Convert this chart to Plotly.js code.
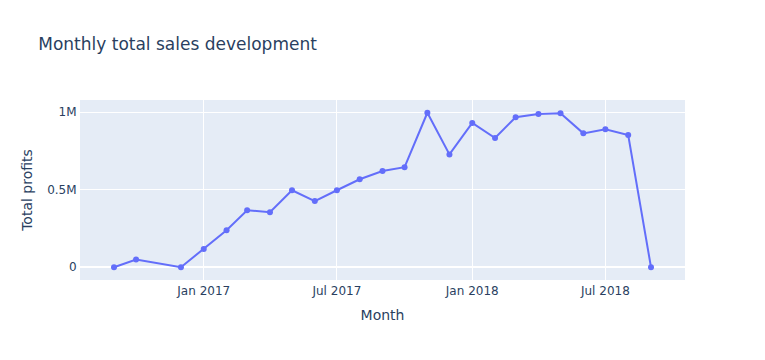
<!DOCTYPE html>
<html>
<head>
<meta charset="utf-8">
<script src="https://cdn.plot.ly/plotly-3.0.1.min.js"></script>
<style>html,body{margin:0;padding:0;background:#fff;}#chart{width:765px;height:360px;}</style>
</head>
<body>
<div id="chart"></div>
<script>
const months = ["2016-09-01","2016-10-01","2016-12-01","2017-01-01","2017-02-01","2017-03-01","2017-04-01","2017-05-01","2017-06-01","2017-07-01","2017-08-01","2017-09-01","2017-10-01","2017-11-01","2017-12-01","2018-01-01","2018-02-01","2018-03-01","2018-04-01","2018-05-01","2018-06-01","2018-07-01","2018-08-01","2018-09-01"];
const profits = [200, 50000, 100, 118000, 239000, 368000, 355000, 497000, 427000, 497000, 568000, 621000, 646000, 997000, 728000, 931000, 834000, 968000, 989000, 994000, 864000, 890000, 853000, 150];

const trace = {
  x: months,
  y: profits,
  type: 'scatter',
  mode: 'lines+markers',
  line: {color: '#636efa', width: 2},
  marker: {color: '#636efa', size: 6}
};

const layout = {
  width: 765,
  height: 360,
  margin: {l: 80, r: 80, t: 100, b: 80},
  paper_bgcolor: '#ffffff',
  plot_bgcolor: '#E5ECF6',
  font: {family: '"DejaVu Sans", verdana, arial, sans-serif', size: 12, color: '#2a3f5f'},
  title: {text: 'Monthly total sales development', x: 0.05, xanchor: 'left', font: {size: 17, color: '#2a3f5f'}},
  xaxis: {
    title: {text: 'Month', font: {size: 14}, standoff: 12},
    gridcolor: '#ffffff', linecolor: '#ffffff', zerolinecolor: '#ffffff',
    ticks: '', automargin: true
  },
  yaxis: {
    title: {text: 'Total profits', font: {size: 14}, standoff: 11},
    gridcolor: '#ffffff', linecolor: '#ffffff', zerolinecolor: '#ffffff', zerolinewidth: 2,
    ticks: '', automargin: true
  },
  showlegend: false
};

Plotly.newPlot('chart', [trace], layout, {displayModeBar: false, responsive: false});
</script>
</body>
</html>
